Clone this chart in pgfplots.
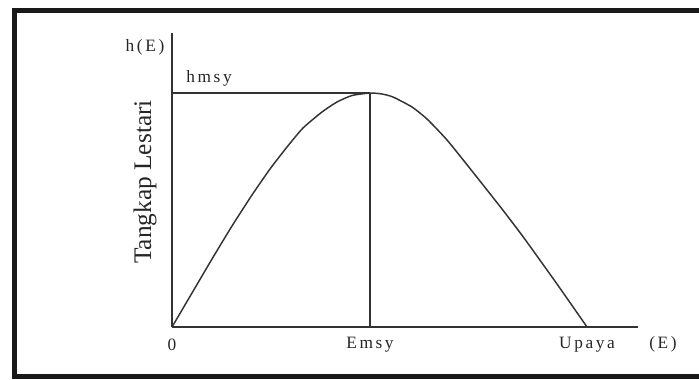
\documentclass[border=0pt]{standalone}
\usepackage{fontspec}
\setmainfont{Liberation Serif}
\newfontfamily\lbl[LetterSpace=15]{Liberation Serif}
\usepackage{pgfplots}
\pgfplotsset{compat=1.18}
\begin{document}
\begin{tikzpicture}[x=0.75pt,y=0.75pt]
\useasboundingbox (0,0) rectangle (699,379);
\fill[white] (0,0) rectangle (699,379);
\draw[line width=3.6pt,black!90] (14.5,2.5) rectangle (720,368.5);
\begin{axis}[
  at={(172,52)}, anchor=south west,
  scale only axis, width=349.5pt, height=220.5pt,
  xmin=0, xmax=466, ymin=0, ymax=294,
  axis x line=bottom, axis y line=left,
  axis line style={-, line width=1.1pt, black!80},
  xtick={0,198,415}, xticklabels={0,Emsy,Upaya},
  ytick=\empty, major tick length=0pt,
  xticklabel style={anchor=center, yshift=-13pt, font=\lbl\fontsize{13}{15}\selectfont, text=black!85},
  clip=false,
]
\addplot[black!80, line width=1.1pt, smooth, tension=0.35] coordinates {
 (0,0) (20,34) (40,68) (60,101) (80,132) (98,158) (115,180) (131,199) (150,215)
 (165,225) (180,231.5) (198,234) (210,233) (221,230) (240,220) (255,208) (275,187)
 (300,156) (330,118) (352,89) (385,43) (415,0)
};
\addplot[black!80, line width=1.1pt] coordinates {(198,0) (198,234)};
\addplot[black!80, line width=1.1pt] coordinates {(0,234) (198,234)};
\node[font=\lbl\fontsize{13}{15}\selectfont, text=black!85] at (axis cs:-27,280) {h(E)};
\node[font=\lbl\fontsize{13}{15}\selectfont, text=black!85] at (axis cs:37,249) {hmsy};
\node[font=\lbl\fontsize{13}{15}\selectfont, text=black!85] at (axis cs:491,-17) {(E)};
\node[rotate=90, font=\fontsize{19}{21}\selectfont, text=black!85] at (axis cs:-27,145) {Tangkap Lestari};
\end{axis}
\end{tikzpicture}
\end{document}
